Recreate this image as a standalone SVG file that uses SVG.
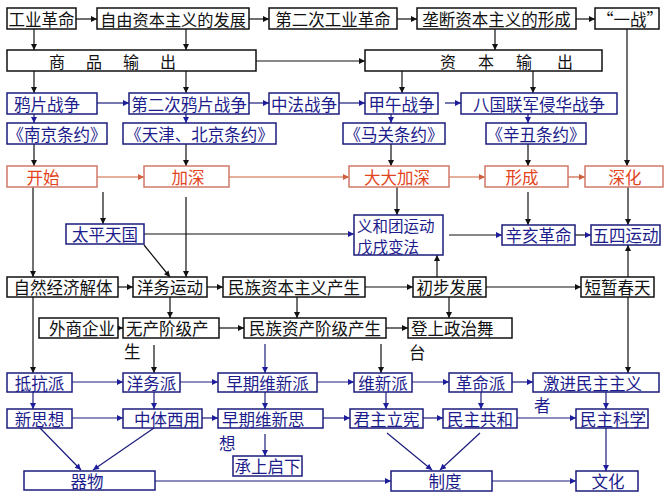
<svg xmlns="http://www.w3.org/2000/svg" width="667" height="500" viewBox="0 0 667 500">
<style>
rect{fill:#fff;stroke-width:1.5}
.k rect{stroke:#111}
.b rect{stroke:#1c1c7c}
.r rect{stroke:#cf7a68}
text{font-family:"Noto Sans CJK SC","Noto Sans",sans-serif;font-size:16.5px;dominant-baseline:central;text-anchor:middle}
.k text{fill:#111}
.b text{fill:#1c1c8c}
.r text{fill:#e2441c}
.s{text-anchor:start}
#conn line{stroke-width:1.2;fill:none}
.lk{stroke:#111}
.lb{stroke:#1c1c7c}
.lr{stroke:#d0603c}
</style>
<defs>
<marker id="ak" viewBox="0 0 10 10" refX="10" refY="5" markerWidth="7" markerHeight="6" markerUnits="userSpaceOnUse" orient="auto"><path d="M0,0L10,5L0,10z" fill="#111"/></marker>
<marker id="ab" viewBox="0 0 10 10" refX="10" refY="5" markerWidth="7" markerHeight="6" markerUnits="userSpaceOnUse" orient="auto"><path d="M0,0L10,5L0,10z" fill="#1c1c9c"/></marker>
<marker id="ar" viewBox="0 0 10 10" refX="10" refY="5" markerWidth="7" markerHeight="6" markerUnits="userSpaceOnUse" orient="auto"><path d="M0,0L10,5L0,10z" fill="#d0603c"/></marker>
</defs>
<rect x="0" y="0" width="667" height="500" style="fill:#fff;stroke:none"/>

<g id="conn">
<line class="lk" x1="76" y1="19" x2="97" y2="19" marker-end="url(#ak)"/>
<line class="lk" x1="249" y1="19" x2="269" y2="19" marker-end="url(#ak)"/>
<line class="lk" x1="397" y1="19" x2="417" y2="19" marker-end="url(#ak)"/>
<line class="lk" x1="576" y1="19" x2="595" y2="19" marker-end="url(#ak)"/>
<line class="lk" x1="34" y1="29" x2="34" y2="50" marker-end="url(#ak)"/>
<line class="lk" x1="186" y1="29" x2="186" y2="50" marker-end="url(#ak)"/>
<line class="lk" x1="495" y1="29" x2="495" y2="50" marker-end="url(#ak)"/>
<line class="lk" x1="256" y1="61" x2="365" y2="61" marker-end="url(#ak)"/>
<line class="lk" x1="627" y1="29" x2="627" y2="166" marker-end="url(#ak)"/>
<line class="lk" x1="34" y1="71" x2="34" y2="93" marker-end="url(#ak)"/>
<line class="lk" x1="186" y1="71" x2="186" y2="93" marker-end="url(#ak)"/>
<line class="lk" x1="402" y1="71" x2="402" y2="93" marker-end="url(#ak)"/>
<line class="lk" x1="533" y1="71" x2="533" y2="93" marker-end="url(#ak)"/>

<line class="lb" x1="97" y1="103" x2="129" y2="103" marker-end="url(#ab)"/>
<line class="lb" x1="249" y1="103" x2="269" y2="103" marker-end="url(#ab)"/>
<line class="lb" x1="339" y1="103" x2="365" y2="103" marker-end="url(#ab)"/>
<line class="lb" x1="445" y1="103" x2="461" y2="103" marker-end="url(#ab)"/>
<line class="lb" x1="34" y1="114" x2="34" y2="123" marker-end="url(#ab)"/>
<line class="lb" x1="186" y1="114" x2="186" y2="123" marker-end="url(#ab)"/>
<line class="lb" x1="391" y1="114" x2="391" y2="123" marker-end="url(#ab)"/>
<line class="lb" x1="528" y1="114" x2="528" y2="123" marker-end="url(#ab)"/>

<line class="lk" x1="34" y1="144" x2="34" y2="166" marker-end="url(#ak)"/>
<line class="lk" x1="186" y1="144" x2="186" y2="166" marker-end="url(#ak)"/>
<line class="lk" x1="391" y1="144" x2="391" y2="166" marker-end="url(#ak)"/>
<line class="lk" x1="528" y1="144" x2="528" y2="166" marker-end="url(#ak)"/>

<line class="lr" x1="97" y1="177" x2="144" y2="177" marker-end="url(#ar)"/>
<line class="lr" x1="229" y1="177" x2="349" y2="177" marker-end="url(#ar)"/>
<line class="lr" x1="449" y1="177" x2="485" y2="177" marker-end="url(#ar)"/>
<line class="lr" x1="568" y1="177" x2="585" y2="177" marker-end="url(#ar)"/>

<line class="lk" x1="103" y1="192" x2="103" y2="224" marker-end="url(#ak)"/>
<line class="lk" x1="33" y1="187" x2="33" y2="277" marker-end="url(#ak)"/>
<line class="lk" x1="186" y1="197" x2="186" y2="277" marker-end="url(#ak)"/>
<line class="lk" x1="144" y1="234" x2="354" y2="234" marker-end="url(#ab)"/>
<line class="lk" x1="144" y1="245" x2="170" y2="277" marker-end="url(#ak)"/>
<line class="lk" x1="397" y1="187" x2="397" y2="215" marker-end="url(#ak)"/>
<line class="lk" x1="449" y1="235" x2="502" y2="235" marker-end="url(#ab)"/>
<line class="lk" x1="575" y1="235" x2="591" y2="235" marker-end="url(#ab)"/>
<line class="lk" x1="528" y1="192" x2="528" y2="225" marker-end="url(#ak)"/>
<line class="lk" x1="628" y1="187" x2="628" y2="225" marker-end="url(#ak)"/>
<line class="lk" x1="628" y1="277" x2="628" y2="245" marker-end="url(#ak)"/>
<line class="lk" x1="437" y1="277" x2="437" y2="255" marker-end="url(#ak)"/>

<line class="lk" x1="118" y1="287" x2="133" y2="287" marker-end="url(#ak)"/>
<line class="lk" x1="207" y1="287" x2="223" y2="287" marker-end="url(#ak)"/>
<line class="lk" x1="365" y1="287" x2="413" y2="287" marker-end="url(#ak)"/>
<line class="lk" x1="486" y1="287" x2="581" y2="287" marker-end="url(#ak)"/>
<line class="lk" x1="170" y1="297" x2="170" y2="318" marker-end="url(#ak)"/>
<line class="lk" x1="297" y1="297" x2="297" y2="318" marker-end="url(#ak)"/>
<line class="lk" x1="449" y1="297" x2="449" y2="318" marker-end="url(#ak)"/>
<line class="lk" x1="118" y1="328" x2="123" y2="328" marker-end="url(#ak)"/>
<line class="lk" x1="219" y1="328" x2="244" y2="328" marker-end="url(#ak)"/>
<line class="lk" x1="386" y1="328" x2="408" y2="328" marker-end="url(#ak)"/>

<line class="lk" x1="33" y1="297" x2="33" y2="373" marker-end="url(#ak)"/>
<line class="lk" x1="154" y1="345" x2="154" y2="373" marker-end="url(#ak)"/>
<line class="lb" x1="265" y1="344" x2="265" y2="373" marker-end="url(#ab)"/>
<line class="lk" x1="381" y1="344" x2="381" y2="373" marker-end="url(#ak)"/>
<line class="lk" x1="628" y1="297" x2="628" y2="373" marker-end="url(#ak)"/>

<line class="lb" x1="72" y1="382" x2="123" y2="382" marker-end="url(#ab)"/>
<line class="lb" x1="180" y1="382" x2="218" y2="382" marker-end="url(#ab)"/>
<line class="lb" x1="317" y1="382" x2="354" y2="382" marker-end="url(#ab)"/>
<line class="lb" x1="412" y1="382" x2="449" y2="382" marker-end="url(#ab)"/>
<line class="lb" x1="512" y1="382" x2="533" y2="382" marker-end="url(#ab)"/>
<line class="lb" x1="33" y1="392" x2="33" y2="409" marker-end="url(#ab)"/>
<line class="lb" x1="154" y1="392" x2="154" y2="409" marker-end="url(#ab)"/>
<line class="lb" x1="265" y1="392" x2="265" y2="409" marker-end="url(#ab)"/>
<line class="lb" x1="386" y1="392" x2="386" y2="409" marker-end="url(#ab)"/>
<line class="lb" x1="481" y1="392" x2="481" y2="409" marker-end="url(#ab)"/>
<line class="lb" x1="606" y1="392" x2="606" y2="409" marker-end="url(#ab)"/>

<line class="lb" x1="72" y1="418" x2="123" y2="418" marker-end="url(#ab)"/>
<line class="lb" x1="202" y1="418" x2="218" y2="418" marker-end="url(#ab)"/>
<line class="lb" x1="323" y1="418" x2="350" y2="418" marker-end="url(#ab)"/>
<line class="lb" x1="423" y1="418" x2="443" y2="418" marker-end="url(#ab)"/>
<line class="lb" x1="517" y1="418" x2="576" y2="418" marker-end="url(#ab)"/>

<line class="lb" x1="40" y1="428" x2="81" y2="470" marker-end="url(#ab)"/>
<line class="lb" x1="154" y1="428" x2="93" y2="470" marker-end="url(#ab)"/>
<line class="lb" x1="265" y1="434" x2="265" y2="456" marker-end="url(#ab)"/>
<line class="lb" x1="387" y1="433" x2="432" y2="470" marker-end="url(#ab)"/>
<line class="lb" x1="480" y1="433" x2="440" y2="470" marker-end="url(#ab)"/>
<line class="lb" x1="606" y1="428" x2="606" y2="471" marker-end="url(#ab)"/>
<line class="lb" x1="155" y1="481" x2="391" y2="481" marker-end="url(#ab)"/>
<line class="lb" x1="492" y1="481" x2="576" y2="481" marker-end="url(#ab)"/>
</g>

<!-- Row 1 -->
<g id="n-gyrm" class="k"><rect x="7" y="8" width="69" height="21"/><text x="41.5" y="19">工业革命</text></g>
<g id="n-zyzb" class="k"><rect x="97" y="8" width="152" height="21"/><text x="173" y="19" style="font-size:16.2px">自由资本主义的发展</text></g>
<g id="n-decgy" class="k"><rect x="269" y="8" width="128" height="21"/><text x="333" y="19">第二次工业革命</text></g>
<g id="n-ldzb" class="k"><rect x="417" y="8" width="159" height="21"/><text x="496.5" y="19">垄断资本主义的形成</text></g>
<g id="n-yz" class="k"><rect x="595" y="8" width="64" height="21"/><text x="630" y="19">“一战”</text></g>
<!-- Row 2 -->
<g id="n-spsc" class="k"><rect x="7" y="50" width="249" height="21"/><text x="57" y="61" style="font-size:16px">商</text><text x="94" y="61" style="font-size:16px">品</text><text x="131" y="61" style="font-size:16px">输</text><text x="168" y="61" style="font-size:16px">出</text></g>
<g id="n-zbsc" class="k"><rect x="365" y="50" width="237" height="21"/><text x="448" y="61" style="font-size:16px">资</text><text x="486" y="61" style="font-size:16px">本</text><text x="524" y="61" style="font-size:16px">输</text><text x="565" y="61" style="font-size:16px">出</text></g>
<!-- Row 3 -->
<g id="n-ypzz" class="b"><rect x="7" y="93" width="90" height="21"/><text x="47" y="104">鸦片战争</text></g>
<g id="n-decyp" class="b"><rect x="129" y="93" width="120" height="21"/><text x="189" y="104">第二次鸦片战争</text></g>
<g id="n-zfzz" class="b"><rect x="269" y="93" width="70" height="21"/><text x="304" y="104">中法战争</text></g>
<g id="n-jwzz" class="b"><rect x="365" y="93" width="73" height="21"/><text x="401.5" y="104">甲午战争</text></g>
<g id="n-bglj" class="b"><rect x="461" y="93" width="156" height="21"/><text x="539" y="104">八国联军侵华战争</text></g>
<!-- Row 4 -->
<g id="n-njty" class="b"><rect x="7" y="123" width="100" height="21"/><text x="57" y="134">《南京条约》</text></g>
<g id="n-tjbj" class="b"><rect x="123" y="123" width="153" height="21"/><text x="199.5" y="134">《天津、北京条约》</text></g>
<g id="n-mgty" class="b"><rect x="343" y="123" width="102" height="21"/><text x="394" y="134">《马关条约》</text></g>
<g id="n-xcty" class="b"><rect x="486" y="123" width="100" height="21"/><text x="536" y="134">《辛丑条约》</text></g>
<!-- Row 5 -->
<g id="n-ks" class="r"><rect x="7" y="166" width="90" height="21"/><text x="43" y="177">开始</text></g>
<g id="n-js" class="r"><rect x="144" y="166" width="85" height="21"/><text x="188" y="177">加深</text></g>
<g id="n-ddjs" class="r"><rect x="349" y="166" width="100" height="21"/><text x="397" y="177">大大加深</text></g>
<g id="n-xc" class="r"><rect x="485" y="166" width="83" height="21"/><text x="522" y="177">形成</text></g>
<g id="n-sh" class="r"><rect x="585" y="166" width="78" height="21"/><text x="625" y="177">深化</text></g>
<!-- Row 6 -->
<g id="n-tptg" class="b"><rect x="66" y="224" width="78" height="20"/><text x="105" y="234">太平天国</text></g>
<g id="n-yht" class="b"><rect x="354" y="215" width="89" height="40"/><text class="s" x="357" y="224.5" style="font-size:15.5px">义和团运动</text><text class="s" x="357" y="245.5" style="font-size:15.5px">戊戌变法</text></g>
<g id="n-xhgm" class="b"><rect x="502" y="225" width="73" height="20"/><text x="538.5" y="235">辛亥革命</text></g>
<g id="n-wsyd" class="b"><rect x="591" y="225" width="69" height="20"/><text x="625.5" y="235">五四运动</text></g>
<!-- Row 7 -->
<g id="n-zrjj" class="k"><rect x="7" y="277" width="111" height="20"/><text x="63" y="287">自然经济解体</text></g>
<g id="n-ywyd" class="k"><rect x="133" y="277" width="74" height="20"/><text x="170" y="287">洋务运动</text></g>
<g id="n-mzzb" class="k"><rect x="223" y="277" width="142" height="20"/><text x="294" y="287">民族资本主义产生</text></g>
<g id="n-cbfz" class="k"><rect x="413" y="277" width="73" height="20"/><text x="449.5" y="287">初步发展</text></g>
<g id="n-dzct" class="k"><rect x="581" y="277" width="73" height="20"/><text x="617.5" y="287">短暂春天</text></g>
<!-- Row 8 -->
<g id="n-wsqy" class="k"><rect x="39" y="318" width="79" height="20"/><text x="82" y="328">外商企业</text></g>
<g id="n-wcjj" class="k"><rect x="123" y="318" width="96" height="20"/><text class="s" x="126" y="328">无产阶级产</text><text class="s" x="124" y="351">生</text></g>
<g id="n-mzzc" class="k"><rect x="244" y="318" width="142" height="20"/><text x="315" y="328">民族资产阶级产生</text></g>
<g id="n-dszz" class="k"><rect x="408" y="318" width="104" height="20"/><text class="s" x="411" y="328">登上政治舞</text><text class="s" x="409" y="352">台</text></g>
<!-- Row 9 -->
<g id="n-dkp" class="b"><rect x="7" y="373" width="65" height="19"/><text x="39.5" y="383">抵抗派</text></g>
<g id="n-ywp" class="b"><rect x="123" y="373" width="57" height="19"/><text x="151.5" y="383">洋务派</text></g>
<g id="n-zqwxp" class="b"><rect x="218" y="373" width="99" height="19"/><text x="267.5" y="383">早期维新派</text></g>
<g id="n-wxp" class="b"><rect x="354" y="373" width="58" height="19"/><text x="383" y="383">维新派</text></g>
<g id="n-gmp" class="b"><rect x="449" y="373" width="63" height="19"/><text x="480.5" y="383">革命派</text></g>
<g id="n-jjmz" class="b"><rect x="533" y="373" width="126" height="19"/><text class="s" x="543" y="383">激进民主主义</text><text class="s" x="534" y="405">者</text></g>
<!-- Row 10 -->
<g id="n-xsx" class="b"><rect x="7" y="409" width="65" height="19"/><text x="39.5" y="419">新思想</text></g>
<g id="n-ztxy" class="b"><rect x="123" y="409" width="79" height="19"/><text x="167" y="419">中体西用</text></g>
<g id="n-zqwxsx" class="b"><rect x="218" y="409" width="105" height="19"/><text class="s" x="222" y="419">早期维新思</text><text class="s" x="219" y="443">想</text></g>
<g id="n-jzlx" class="b"><rect x="350" y="409" width="73" height="19"/><text x="386.5" y="419">君主立宪</text></g>
<g id="n-mzgh" class="b"><rect x="443" y="409" width="74" height="19"/><text x="480" y="419">民主共和</text></g>
<g id="n-mzkx" class="b"><rect x="576" y="409" width="72" height="19"/><text x="613" y="419">民主科学</text></g>
<!-- Row 11 -->
<g id="n-qw" class="b"><rect x="24" y="471" width="131" height="19"/><text x="87" y="481">器物</text></g>
<g id="n-csqx" class="b"><rect x="233" y="456" width="69" height="20"/><text x="267.5" y="466">承上启下</text></g>
<g id="n-zd" class="b"><rect x="391" y="471" width="101" height="20"/><text x="445" y="481">制度</text></g>
<g id="n-wh" class="b"><rect x="576" y="471" width="62" height="20"/><text x="608" y="481">文化</text></g>
</svg>
